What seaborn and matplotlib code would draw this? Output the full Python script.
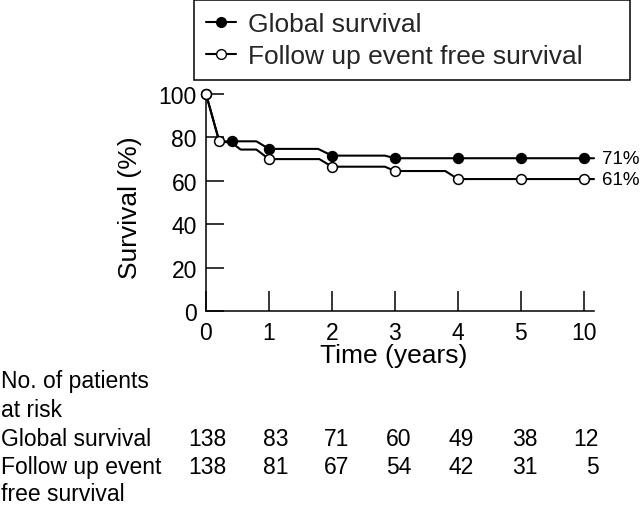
import matplotlib
matplotlib.use("Agg")
import matplotlib.pyplot as plt
from matplotlib.lines import Line2D
import seaborn as sns
import pandas as pd

# ---- data ----
time_labels = ["0", "1", "2", "3", "4", "5", "10"]
time_positions = [0, 1, 2, 3, 4, 5, 6]
y_ticks = [0, 20, 40, 60, 80, 100]

# curve vertices (position on the time axis, survival %)
global_line_t = [0, 0.21, 0.41, 0.8, 1.0, 1.78, 2.0, 2.84, 3.0, 6.16]
global_line_s = [100, 78.2, 78.2, 78.2, 74.7, 74.7, 71.6, 71.6, 70.4, 70.4]
efs_line_t = [0, 0.21, 0.41, 0.55, 0.8, 1.0, 1.8, 2.0, 2.84, 3.0, 3.8, 4.0, 6.16]
efs_line_s = [100, 78.2, 77.5, 74.4, 74.4, 70.0, 70.0, 66.5, 66.5, 64.5, 64.5, 60.8, 60.8]

# markers
global_mk_t = [0, 0.41, 1, 2, 3, 4, 5, 6]
global_mk_s = [100, 78.4, 74.7, 71.6, 70.4, 70.4, 70.4, 70.4]
efs_mk_t = [0, 0.21, 1, 2, 3, 4, 5, 6]
efs_mk_s = [100, 78.2, 70.0, 66.5, 64.5, 60.8, 60.8, 60.8]

final_labels = ["71%", "61%"]
final_values = [70.4, 60.8]

series_names = ["Global survival", "Follow up event free survival"]
risk_global = [138, 83, 71, 60, 49, 38, 12]
risk_efs = [138, 81, 67, 54, 42, 31, 5]

# ---- style ----
sns.set_theme(style="ticks")
plt.rcParams["font.family"] = ["Liberation Sans", "DejaVu Sans"]

W, H = 640, 506
fig = plt.figure(figsize=(W / 100, H / 100), dpi=100)
ax = fig.add_axes([206 / W, 194 / H, 388 / W, 217 / H])

lw = 1.5
sns.lineplot(x=global_line_t, y=global_line_s, ax=ax, color="black", lw=lw,
             sort=False, estimator=None)
sns.lineplot(x=efs_line_t, y=efs_line_s, ax=ax, color="black", lw=lw,
             sort=False, estimator=None)
for ln in ax.lines:
    ln.set_clip_on(False)

sns.scatterplot(x=global_mk_t, y=global_mk_s, ax=ax, color="black",
                edgecolor="black", linewidth=1.1, s=50, zorder=3, clip_on=False)
sns.scatterplot(x=efs_mk_t, y=efs_mk_s, ax=ax, color="white",
                edgecolor="black", linewidth=1.1, s=50, zorder=4, clip_on=False)

ax.set_xlim(0, 6.16)
ax.set_ylim(0, 100)
ax.set_xticks(time_positions)
ax.set_xticklabels(time_labels)
ax.set_yticks(y_ticks)
ax.tick_params(axis="x", direction="in", length=14.5, width=1.1, pad=7,
               labelsize=16.5, colors="black")
ax.tick_params(axis="y", direction="in", length=13, width=1.1, pad=6.5,
               labelsize=16.5, colors="black")
for s in ["top", "right"]:
    ax.spines[s].set_visible(False)
for s in ["left", "bottom"]:
    ax.spines[s].set_linewidth(1.1)
    ax.spines[s].set_color("black")

ax.set_xlabel("Time (years)", fontsize=19, color="black")
ax.xaxis.set_label_coords(0.483, -0.147)
ax.set_ylabel("Survival (%)", fontsize=19, color="black")
ax.yaxis.set_label_coords(-0.165, 0.48)

for lab, val in zip(final_labels, final_values):
    ax.text(1.0 + 8 / 388, val, lab, transform=ax.get_yaxis_transform(),
            ha="left", va="center", fontsize=13.5, color="black", clip_on=False)

handles = [
    Line2D([], [], color="black", lw=lw, marker="o", markersize=7,
           markerfacecolor="black", markeredgecolor="black"),
    Line2D([], [], color="black", lw=lw, marker="o", markersize=7,
           markerfacecolor="white", markeredgecolor="black"),
]
leg = fig.legend(handles, series_names, loc="upper left",
                 bbox_to_anchor=(194 / W, 0, (630 - 194) / W, 1 - 1 / H),
                 bbox_transform=fig.transFigure, mode="expand",
                 borderaxespad=0, fontsize=19, frameon=True, fancybox=False,
                 edgecolor="black", framealpha=1, handlelength=1.15,
                 handletextpad=0.45, labelspacing=0.32, borderpad=0.45)
leg.get_frame().set_linewidth(1.1)

# ---- at-risk table ----
fs_tab = 16.5
rows_left = [
    ("No. of patients", 388),
    ("at risk", 417),
    ("Global survival", 446),
    ("Follow up event", 474),
    ("free survival", 501),
]
for txt, base in rows_left:
    fig.text(1 / W, 1 - base / H, txt, ha="left", va="baseline",
             fontsize=fs_tab, color="black")

col_right = [226, 289, 349, 411, 474, 538, 599]
for vals, base in [(risk_global, 446), (risk_efs, 474)]:
    for v, xr in zip(vals, col_right):
        fig.text(xr / W, 1 - base / H, str(v), ha="right", va="baseline",
                 fontsize=fs_tab, color="black")

fig.savefig("out.png", dpi=100)
